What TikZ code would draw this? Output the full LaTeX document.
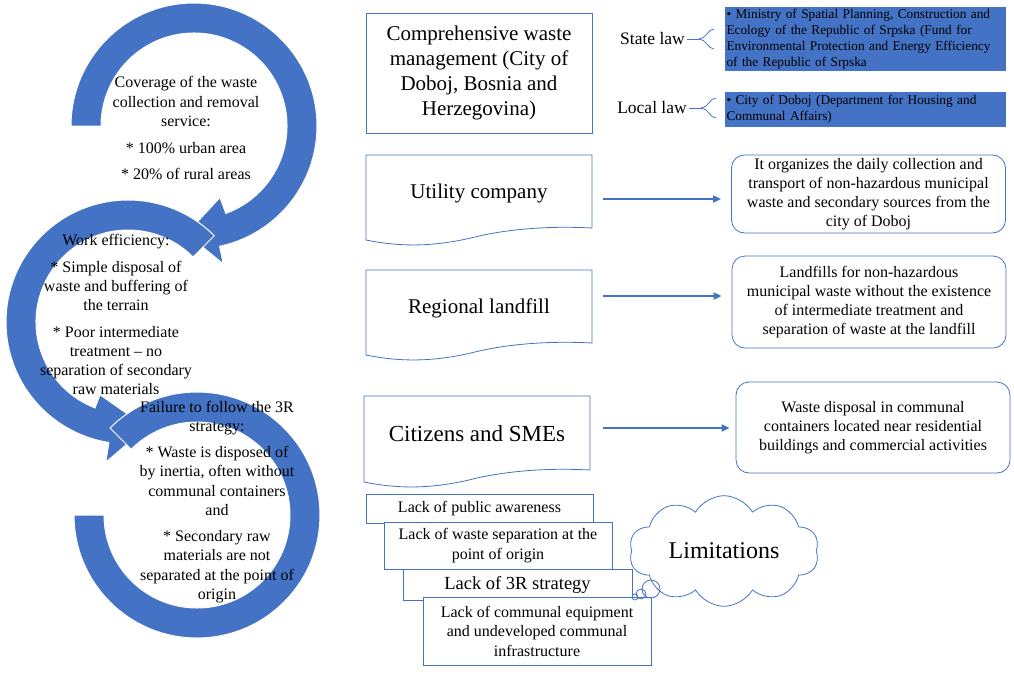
\documentclass[tikz,border=0pt]{standalone}
\usepackage{fontspec}
\setmainfont{Liberation Serif}
\usetikzlibrary{arrows.meta,shapes.symbols,calc}
\definecolor{wblue}{HTML}{4472C4}
\newcommand\docshape[4]{%
 \draw[docline] (#1,#2) -- (#3,#2) -- (#3,#4) .. controls ({#3-37},{#4-2}) and ({(#1+#3)/2+36},{#4}) .. ({(#1+#3)/2},{#4+8}) .. controls ({(#1+#3)/2-39},{#4+18}) and ({#1+39},{#4+20}) .. (#1,{#4+12}) -- cycle;}
\begin{document}
\begin{tikzpicture}[x=1pt,y=-1pt,
  ring/.style={fill=wblue,draw=white,line width=1pt},
  ringtext/.style={align=center,inner sep=0pt,font=\fontsize{16}{19.5}\selectfont},
  docline/.style={draw=wblue,line width=0.8pt},
  doctext/.style={minimum width=226pt,inner sep=0pt,font=\fontsize{21}{25}\selectfont},
  rbox/.style={draw=wblue,line width=0.8pt,rounded corners=13pt,align=center,inner sep=0pt,font=\fontsize{16}{19}\selectfont},
  bbox/.style={fill=wblue,inner xsep=1.5pt,inner ysep=0pt,text width=278pt,align=left,font=\fontsize{13.3}{16}\selectfont},
  law/.style={inner sep=2pt,font=\fontsize{17.5}{20}\selectfont},
  brace/.style={draw=wblue,line width=0.8pt},
  lbox/.style={draw=wblue,fill=white,line width=0.8pt,align=center,inner sep=0pt,font=\fontsize{16}{20}\selectfont},
  arr/.style={wblue,line width=1.8pt,-{Triangle[length=8pt,width=7pt]}}]
\useasboundingbox (0,0) rectangle (1014,673);
% circular arrows
\coordinate (c1) at (194,126);
\coordinate (c2) at (128,322);
\coordinate (c3) at (197,515);
\path[ring] ($(c1)+(-180:123)$) arc[start angle=-180,end angle=78,radius=123] -- ($(c1)+(78:141)$) -- ($(c1)+(94:108)$) -- ($(c1)+(70:76)$) -- ($(c1)+(70:93)$) arc[start angle=70,end angle=-180,radius=93] -- cycle;
\path[ring] ($(c2)+(-45:122)$) arc[start angle=-45,end angle=-261,radius=122] -- ($(c2)+(-261:142)$) -- ($(c2)+(-280:107)$) -- ($(c2)+(-249:78)$) -- ($(c2)+(-249:92)$) arc[start angle=-249,end angle=-45,radius=92] -- cycle;
\path[ring] ($(c3)+(-135:123)$) arc[start angle=-135,end angle=180,radius=123] -- ($(c3)+(180:93)$) arc[start angle=180,end angle=-135,radius=93] -- cycle;
\node[ringtext] (t1) at (186,128) {Coverage of the waste\\collection and removal\\service:\\[7pt]* 100\% urban area\\[7pt]* 20\% of rural areas};
\node[ringtext,font=\fontsize{16}{19}\selectfont] (t2) at (116,314.5) {Work efficiency:\\[8pt]* Simple disposal of\\waste and buffering of\\the terrain\\[8pt]* Poor intermediate\\treatment -- no\\separation of secondary\\raw materials};
\node[ringtext] (t3) at (217,502) {Failure to follow the 3R\\strategy:\\[6pt]* Waste is disposed of\\by inertia, often without\\communal containers\\and\\[6pt]* Secondary raw\\materials are not\\separated at the point of\\origin};
% middle column
\node[draw=wblue,line width=0.8pt,minimum width=226pt,minimum height=120pt,inner sep=0pt,align=center,font=\fontsize{21}{25}\selectfont] (cwm) at (479,73) {Comprehensive waste\\management (City of\\Doboj, Bosnia and\\Herzegovina)};
\docshape{366}{155}{592}{228}
\docshape{366}{270}{592}{343}
\docshape{364}{396}{590}{470}
\node[doctext] (util) at (479,193) {Utility company};
\node[doctext] (land) at (479,308) {Regional landfill};
\node[doctext,font=\fontsize{23}{27}\selectfont] (cit) at (477,434) {Citizens and SMEs};
% right boxes
\node[rbox,minimum width=274pt,minimum height=78pt] (r1) at (868.5,194) {It organizes the daily collection and\\transport of non-hazardous municipal\\waste and secondary sources from the\\city of Doboj};
\node[rbox,minimum width=274pt,minimum height=92pt] (r2) at (869,302) {Landfills for non-hazardous\\municipal waste without the existence\\of intermediate treatment and\\separation of waste at the landfill};
\node[rbox,minimum width=274pt,minimum height=91pt] (r3) at (873,427.5) {Waste disposal in communal\\containers located near residential\\buildings and commercial activities};
\draw[arr] ($(util.east)+(11,6)$) -- ($(util.east -| r1.west)+(-10,6)$);
\draw[arr] ($(land.east)+(11,-12)$) -- ($(land.east -| r2.west)+(-10,-12)$);
\draw[arr] ($(cit.east)+(13,-6)$) -- ($(cit.east -| r3.west)+(-6,-6)$);
% laws
\node[bbox,minimum height=64pt] (bb1) at (865.5,39) {\textbullet{} Ministry of Spatial Planning, Construction and\\Ecology of the Republic of Srpska (Fund for\\Environmental Protection and Energy Efficiency\\of the Republic of Srpska};
\node[bbox,minimum height=35pt] (bb2) at (865.5,109.5) {\textbullet{} City of Doboj (Department for Housing and\\Communal Affairs)};
\node[law] (state) at (652.5,39) {State law};
\node[law] (local) at (652,108) {Local law};
\draw[brace] (state.east) -- ++(12,0) coordinate (s1);
\draw[brace] (s1) .. controls +(7,0) and +(-6,0) .. ($(s1)+(15,-10)$);
\draw[brace] (s1) .. controls +(7,0) and +(-6,0) .. ($(s1)+(15,10)$);
\draw[brace] (local.east) -- ++(12,0) coordinate (s2);
\draw[brace] (s2) .. controls +(7,0) and +(-6,0) .. ($(s2)+(15,-10)$);
\draw[brace] (s2) .. controls +(7,0) and +(-6,0) .. ($(s2)+(15,10)$);
% limitations
\node[lbox,minimum width=227pt,minimum height=29pt] (l1) at (479.5,508.5) {Lack of public awareness};
\node[lbox,minimum width=228pt,minimum height=47pt] (l2) at (498,545.5) {Lack of waste separation at the\\point of origin};
\node[lbox,minimum width=229pt,minimum height=31pt,font=\fontsize{18.5}{22}\selectfont] (l3) at (517.5,584.5) {Lack of 3R strategy};
\node[lbox,minimum width=228pt,minimum height=68pt,font=\fontsize{16}{19.5}\selectfont] (l4) at (537,631) {Lack of communal equipment\\and undeveloped communal\\infrastructure};
\node[cloud,draw=wblue,line width=0.8pt,cloud puffs=10,cloud puff arc=120,aspect=1.8,minimum width=190pt,minimum height=110pt,inner sep=0pt,font=\fontsize{24}{28}\selectfont] (lim) at (724,551) {Limitations};
\draw[wblue,line width=0.8pt] (651,589) circle[radius=9];
\draw[wblue,line width=0.8pt] (641,594) circle[radius=5];
\draw[wblue,line width=0.8pt] (635,597) circle[radius=3];
\end{tikzpicture}
\end{document}
